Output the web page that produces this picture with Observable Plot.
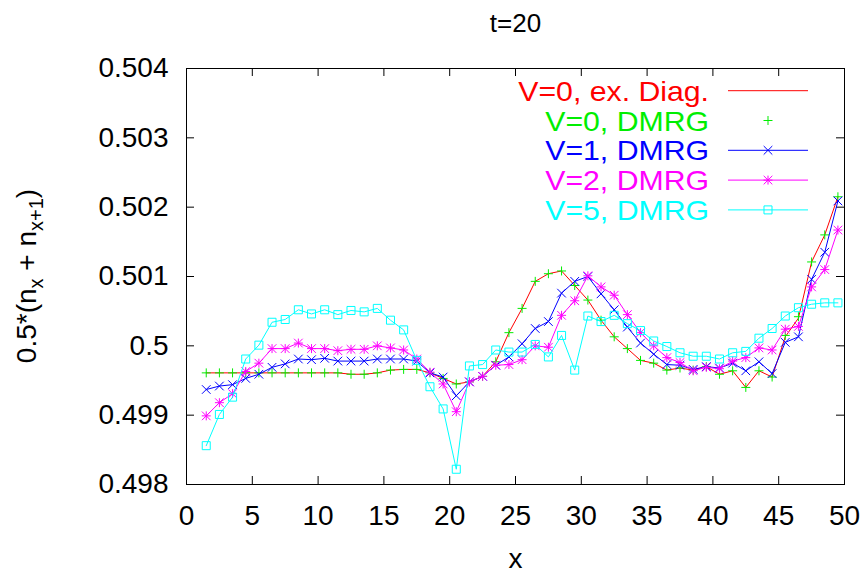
<!DOCTYPE html>
<html><head><meta charset="utf-8">
<script src="https://cdn.jsdelivr.net/npm/d3@7"></script>
<script src="https://cdn.jsdelivr.net/npm/@observablehq/plot@0.6"></script>
<style>
body{margin:0;background:#fff;}
#chart svg{display:block}
</style></head><body><div id="chart"></div>
<script>
// ---- data ----
const xs = [1.5,2.5,3.5,4.5,5.5,6.5,7.5,8.5,9.5,10.5,11.5,12.5,13.5,14.5,15.5,16.5,17.5,18.5,19.5,20.5,
  21.5,22.5,23.5,24.5,25.5,26.5,27.5,28.5,29.5,30.5,31.5,32.5,33.5,34.5,35.5,36.5,37.5,38.5,39.5,40.5,
  41.5,42.5,43.5,44.5,45.5,46.5,47.5,48.5,49.5];
const v0Diag = [0.49961,0.49961,0.49961,0.49961,0.49961,0.49961,0.49961,0.49961,0.49961,0.49961,0.49961,0.49959,0.49959,0.49961,0.49965,0.49966,0.49966,0.49961,0.49953,0.49945,
  0.49948,0.49956,0.49977,0.50019,0.50054,0.50093,0.50104,0.50108,0.50087,0.50066,0.50037,0.50013,0.49996,0.49979,0.49975,0.49965,0.49968,0.49965,0.49970,0.49959,
  0.49964,0.49940,0.49964,0.49955,0.50013,0.50040,0.50121,0.50160,0.50215];
const v0DMRG = [0.49961,0.49961,0.49961,0.49961,0.49961,0.49961,0.49961,0.49961,0.49961,0.49961,0.49961,0.49959,0.49959,0.49961,0.49965,0.49966,0.49966,0.49961,0.49953,0.49945,
  0.49948,0.49956,0.49977,0.50019,0.50054,0.50093,0.50104,0.50108,0.50087,0.50066,0.50037,0.50013,0.49996,0.49979,0.49975,0.49965,0.49968,0.49965,0.49970,0.49959,
  0.49964,0.49940,0.49964,0.49955,0.50015,0.50042,0.50121,0.50160,0.50215];
const v1DMRG = [0.49937,0.49942,0.49944,0.49953,0.49959,0.49969,0.49974,0.49981,0.49980,0.49982,0.49978,0.49978,0.49978,0.49981,0.49981,0.49981,0.49978,0.49961,0.49955,0.49928,
  0.49948,0.49956,0.49972,0.49984,0.50003,0.50025,0.50035,0.50076,0.50093,0.50100,0.50075,0.50052,0.50027,0.50004,0.49988,0.49973,0.49972,0.49966,0.49970,0.49968,
  0.49975,0.49964,0.49977,0.49960,0.50005,0.50013,0.50096,0.50135,0.50209];
const v2DMRG = [0.49899,0.49918,0.49931,0.49963,0.49975,0.49996,0.49996,0.50004,0.49996,0.49996,0.49993,0.49995,0.49995,0.50000,0.49997,0.49994,0.49981,0.49962,0.49945,0.49905,
  0.49948,0.49956,0.49972,0.49973,0.49980,0.50000,0.49998,0.50044,0.50065,0.50101,0.50085,0.50073,0.50045,0.50019,0.50000,0.49983,0.49976,0.49964,0.49969,0.49967,
  0.49978,0.49983,0.49997,0.49994,0.50024,0.50028,0.50085,0.50110,0.50167];
const v5DMRG = [0.49856,0.49901,0.49926,0.49981,0.50001,0.50034,0.50038,0.50052,0.50046,0.50052,0.50045,0.50051,0.50049,0.50054,0.50037,0.50023,0.49979,0.49941,0.49909,0.49822,
  0.49971,0.49973,0.49994,0.49991,0.49991,0.50002,0.49984,0.50015,0.49965,0.50043,0.50035,0.50044,0.50032,0.50022,0.50007,0.49999,0.49990,0.49985,0.49985,0.49981,
  0.49990,0.49992,0.50011,0.50025,0.50043,0.50055,0.50060,0.50062,0.50062];
const xTicks = [0,5,10,15,20,25,30,35,40,45,50];
const yTicks = [0.498,0.499,0.500,0.501,0.502,0.503,0.504];
const seriesLabels = ["V=0, ex. Diag.","V=0, DMRG","V=1, DMRG","V=2, DMRG","V=5, DMRG"];
const seriesColors = ["#ff0000","#00ee00","#0000ff","#ff00ff","#00ffff"];
const titleText = "t=20";
const xLabel = "x";

// ---- layout ----
const W = 868, H = 572, ML = 186, MR = 24, MT = 68, MB = 88;
const FW = W - ML - MR, FH = H - MT - MB;
const FONT = "'Liberation Sans', Arial, Helvetica, sans-serif";
const FS = 28;

const rows = arr => xs.map((x, i) => ({x, y: arr[i]}));
const symSpec = [
  null,
  [{symbol: "plus", r: 3}],
  [{symbol: "times", r: 4}],
  [{symbol: "plus", r: 3}, {symbol: "times", r: 4}],
  [{symbol: "square2", r: 5.1}]
];

function legendMark(index, scales, values, dims) {
  const g = d3.create("svg:g").attr("font-family", FONT).attr("font-size", FS);
  const right = dims.width - dims.marginRight;
  seriesLabels.forEach((lab, i) => {
    const y = dims.marginTop + 22.7 + i * 29.8;
    g.append("text").attr("transform", `translate(${right - 135},${y}) scale(1.08,1)`).attr("dy", "0.36em")
      .attr("text-anchor", "end").attr("fill", seriesColors[i]).text(lab);
    if (i !== 1) {
      g.append("line").attr("x1", right - 116).attr("x2", right - 36)
        .attr("y1", y).attr("y2", y).attr("stroke", seriesColors[i]).attr("stroke-width", 1);
    }
    (symSpec[i] || []).forEach(s => {
      const t = {plus: d3.symbolPlus, times: d3.symbolTimes, square2: d3.symbolSquare2}[s.symbol];
      g.append("path").attr("transform", `translate(${right - 76},${y})`)
        .attr("d", d3.symbol(t, Math.PI * s.r * s.r)())
        .attr("fill", "none").attr("stroke", seriesColors[i]).attr("stroke-width", 1);
    });
  });
  return g.node();
}

function yLabelMark(index, scales, values, dims) {
  const g = d3.create("svg:g");
  const cy = (dims.marginTop + dims.height - dims.marginBottom) / 2;
  const t = g.append("text").attr("transform", `translate(36,${cy}) rotate(-90)`)
    .attr("text-anchor", "middle").attr("font-family", FONT).attr("font-size", FS)
    .attr("fill", "#000").style("white-space", "pre");
  t.append("tspan").text("0.5*(n");
  t.append("tspan").attr("font-size", 20).attr("dy", 7).text("x");
  t.append("tspan").attr("dy", -7).text(" + n");
  t.append("tspan").attr("font-size", 20).attr("dy", 7).text("x+1");
  t.append("tspan").attr("dy", -7).text(")");
  return g.node();
}

const dataSets = [v0Diag, v0DMRG, v1DMRG, v2DMRG, v5DMRG];
const seriesMarks = [];
dataSets.forEach((arr, i) => {
  const r = rows(arr);
  if (i !== 1) seriesMarks.push(Plot.line(r, {x: "x", y: "y", stroke: seriesColors[i], strokeWidth: 1}));
  (symSpec[i] || []).forEach(s => {
    seriesMarks.push(Plot.dot(r, {x: "x", y: "y", symbol: s.symbol, r: s.r, stroke: seriesColors[i], fill: "none", strokeWidth: 1}));
  });
});

const chart = Plot.plot({
  width: W, height: H,
  marginLeft: ML, marginRight: MR, marginTop: MT, marginBottom: MB,
  x: {domain: [0, 50]},
  y: {domain: [0.498, 0.504]},
  style: {fontFamily: FONT, fontSize: FS + "px", color: "#000", background: "#fff"},
  marks: [
    Plot.axisX({ticks: xTicks, tickSize: 0, tickPadding: 21, tickFormat: d => String(d), fontSize: FS, label: null}),
    Plot.axisY({ticks: yTicks, tickSize: 0, tickPadding: 18, tickFormat: d => String(+d.toFixed(3)), fontSize: FS, label: null}),
    Plot.ruleX(xTicks, {stroke: "#000", insetTop: FH - 8}),
    Plot.ruleX(xTicks, {stroke: "#000", insetBottom: FH - 8}),
    Plot.ruleY(yTicks, {stroke: "#000", insetRight: FW - 8}),
    Plot.ruleY(yTicks, {stroke: "#000", insetLeft: FW - 8}),
    ...seriesMarks,
    Plot.frame({stroke: "#000", strokeWidth: 1}),
    Plot.text([titleText], {frameAnchor: "top", dy: -37, fontSize: 26, fill: "#000", lineAnchor: "bottom"}),
    Plot.text([xLabel], {frameAnchor: "bottom", dy: 83, fontSize: FS, fill: "#000", lineAnchor: "bottom"}),
    legendMark,
    yLabelMark
  ]
});
document.getElementById("chart").append(chart);
</script></body></html>
